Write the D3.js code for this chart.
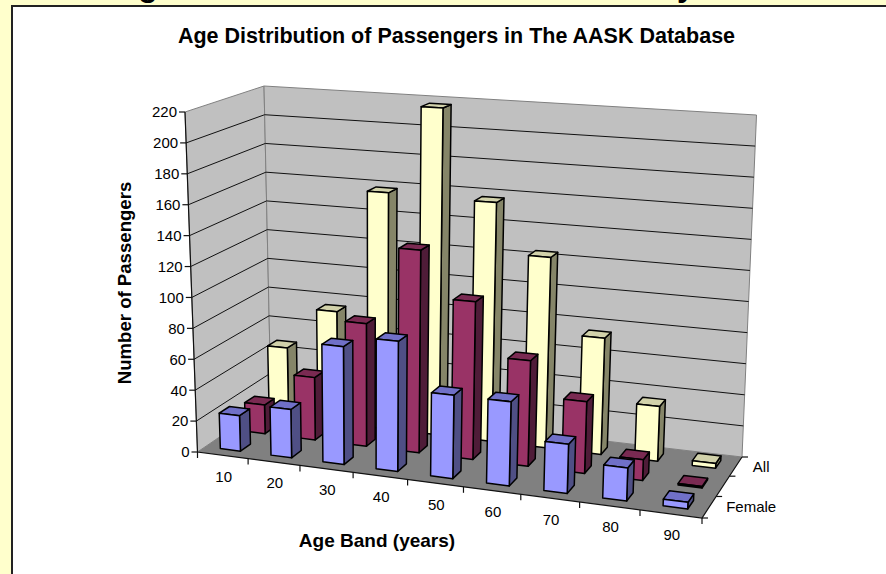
<!DOCTYPE html>
<html>
<head>
<meta charset="utf-8">
<script src="https://cdn.jsdelivr.net/npm/d3@7"></script>
<style>
  html, body { margin: 0; padding: 0; background: #ffffcc; overflow: hidden; }
  text { font-family: "Liberation Sans", Arial, sans-serif; fill: #000; }
</style>
</head>
<body>
<div id="chart"></div>
<script>
// values
const ageBands = ["10", "20", "30", "40", "50", "60", "70", "80", "90"];
const seriesNames = ["Female", "Male", "All"];
const female = [23, 31, 75, 82, 52, 52, 30, 20, 4];
const male = [19, 41, 80, 131, 101, 67, 45, 13, 1];
const all = [47, 75, 158, 217, 157, 124, 75, 35, 3];
const yTicks = [0, 20, 40, 60, 80, 100, 120, 140, 160, 180, 200, 220];
const seriesLabels = ["Female", "All"];

const colours = {
  Female: {front: "#9999ff", side: "#4f4f85", top: "#7070c8"},
  Male: {front: "#993366", side: "#4f1c38", top: "#7a2a52"},
  All: {front: "#ffffcc", side: "#858568", top: "#d2d2aa"}
};

const width = 886, height = 574;

const svg = d3.select("#chart").append("svg")
  .attr("width", width)
  .attr("height", height)
  .style("display", "block");

// page behind the chart, the slide title is cut off by the top edge
svg.append("rect").attr("width", width).attr("height", height).attr("fill", "#ffffcc");
svg.append("text").attr("x", 148).attr("y", -4).attr("text-anchor", "middle")
  .attr("font-size", 32).attr("font-weight", "bold").text("g");
svg.append("text").attr("x", 686).attr("y", -4).attr("text-anchor", "middle")
  .attr("font-size", 32).attr("font-weight", "bold").text("y");
svg.append("rect").attr("x", 12).attr("y", 6).attr("width", width).attr("height", height)
  .attr("fill", "#fff").attr("stroke", "#222").attr("stroke-width", 2);

// corners of the plot box on screen: front left, front right, back right, back left
const floorQuad = [[197.5, 452], [702, 518], [742, 457], [271, 402]];
const topQuad = [[185, 112], [716, 146], [756.5, 115], [264, 86]];

// maps the unit square on to a quad, keeps the perspective of the floor
function quadMap(q) {
  const dx1 = q[1][0] - q[2][0], dx2 = q[3][0] - q[2][0], sx = q[0][0] - q[1][0] + q[2][0] - q[3][0];
  const dy1 = q[1][1] - q[2][1], dy2 = q[3][1] - q[2][1], sy = q[0][1] - q[1][1] + q[2][1] - q[3][1];
  const det = dx1 * dy2 - dx2 * dy1;
  const g = (sx * dy2 - dx2 * sy) / det;
  const h = (dx1 * sy - sx * dy1) / det;
  const a = q[1][0] - q[0][0] + g * q[1][0], b = q[3][0] - q[0][0] + h * q[3][0];
  const d = q[1][1] - q[0][1] + g * q[1][1], e = q[3][1] - q[0][1] + h * q[3][1];
  return (u, v) => {
    const w = g * u + h * v + 1;
    return [(a * u + b * v + q[0][0]) / w, (d * u + e * v + q[0][1]) / w];
  };
}
const floorMap = quadMap(floorQuad);
const topMap = quadMap(topQuad);

const xScale = d3.scaleBand().domain(ageBands).range([0, 1]).paddingInner(0.6).paddingOuter(0.3);
const zScale = d3.scaleBand().domain(seriesNames).range([0, 1]).paddingInner(0.6).paddingOuter(0.3);
const yScale = d3.scaleLinear().domain([0, 220]).range([0, 1]);

function project(u, v, h) {
  const a = floorMap(u, v), b = topMap(u, v);
  return [a[0] + (b[0] - a[0]) * h, a[1] + (b[1] - a[1]) * h];
}

const poly = d3.line();
const closed = pts => poly(pts) + "Z";

// walls and floor
svg.append("path")
  .attr("d", closed([project(0, 0, 0), project(0, 1, 0), project(0, 1, 1), project(0, 0, 1)]))
  .attr("fill", "#c0c0c0").attr("stroke", "#808080");
svg.append("path")
  .attr("d", closed([project(0, 1, 0), project(1, 1, 0), project(1, 1, 1), project(0, 1, 1)]))
  .attr("fill", "#c0c0c0").attr("stroke", "#808080");
svg.append("path")
  .attr("d", closed([project(0, 0, 0), project(1, 0, 0), project(1, 1, 0), project(0, 1, 0)]))
  .attr("fill", "#808080");

// gridlines
const grid = svg.append("g").attr("fill", "none").attr("stroke", "#111").attr("stroke-width", 1);
yTicks.filter(t => t > 0 && t < 220).forEach(t => {
  const h = yScale(t);
  grid.append("path").attr("d", poly([project(0, 0, h), project(0, 1, h), project(1, 1, h)]));
});

// axis lines
const axes = svg.append("g").attr("fill", "none").attr("stroke", "#111").attr("stroke-width", 1.2);
axes.append("path").attr("d", poly([project(0, 0, 1), project(0, 0, 0), project(1, 0, 0), project(1, 1, 0)]));

// value axis
yTicks.forEach(t => {
  const p = project(0, 0, yScale(t));
  axes.append("line").attr("x1", p[0] - 6).attr("x2", p[0]).attr("y1", p[1]).attr("y2", p[1]);
  svg.append("text").attr("x", p[0] - 8).attr("y", p[1]).attr("dy", "0.36em")
    .attr("text-anchor", "end").attr("font-size", 15).text(t);
});

// age band axis
d3.range(ageBands.length + 1).forEach(i => {
  const p = project(i * xScale.step(), 0, 0);
  axes.append("line").attr("x1", p[0]).attr("x2", p[0]).attr("y1", p[1]).attr("y2", p[1] + 6);
});
ageBands.forEach(band => {
  const p = project(xScale(band) + xScale.bandwidth() / 2, 0, 0);
  svg.append("text").attr("x", p[0] + 1).attr("y", p[1] + 21).attr("dy", "0.36em")
    .attr("text-anchor", "middle").attr("font-size", 15).text(band);
});

// series axis
d3.range(seriesNames.length + 1).forEach(i => {
  const p = project(1, i * zScale.step(), 0);
  axes.append("line").attr("x1", p[0]).attr("x2", p[0] + 6).attr("y1", p[1]).attr("y2", p[1]);
});
seriesLabels.forEach(name => {
  const p = project(1, zScale(name) + zScale.bandwidth() / 2, 0);
  svg.append("text").attr("x", p[0] + 17).attr("y", p[1]).attr("dy", "0.36em")
    .attr("font-size", 15).text(name);
});

// bars, back row first, right to left inside a row
const rows = [["All", all], ["Male", male], ["Female", female]];
rows.forEach(([name, values]) => {
  const g = svg.append("g").attr("stroke", "#000").attr("stroke-width", 1.5).attr("stroke-linejoin", "round");
  const v0 = zScale(name), v1 = v0 + zScale.bandwidth();
  ageBands.slice().reverse().forEach(band => {
    const value = values[ageBands.indexOf(band)];
    const u0 = xScale(band), u1 = u0 + xScale.bandwidth();
    const h = yScale(value);
    g.append("path").attr("fill", colours[name].side)
      .attr("d", closed([project(u1, v0, 0), project(u1, v1, 0), project(u1, v1, h), project(u1, v0, h)]));
    g.append("path").attr("fill", colours[name].top)
      .attr("d", closed([project(u0, v0, h), project(u1, v0, h), project(u1, v1, h), project(u0, v1, h)]));
    g.append("path").attr("fill", colours[name].front)
      .attr("d", closed([project(u0, v0, 0), project(u1, v0, 0), project(u1, v0, h), project(u0, v0, h)]));
  });
});

// titles
svg.append("text").attr("x", 456.5).attr("y", 43).attr("text-anchor", "middle")
  .attr("font-size", 21.5).attr("font-weight", "bold")
  .text("Age Distribution of Passengers in The AASK Database");
svg.append("text").attr("x", 377).attr("y", 547).attr("text-anchor", "middle")
  .attr("font-size", 19).attr("font-weight", "bold").text("Age Band (years)");
svg.append("text").attr("transform", "translate(131,283) rotate(-90)").attr("text-anchor", "middle")
  .attr("font-size", 18.6).attr("font-weight", "bold").text("Number of Passengers");
</script>
</body>
</html>
